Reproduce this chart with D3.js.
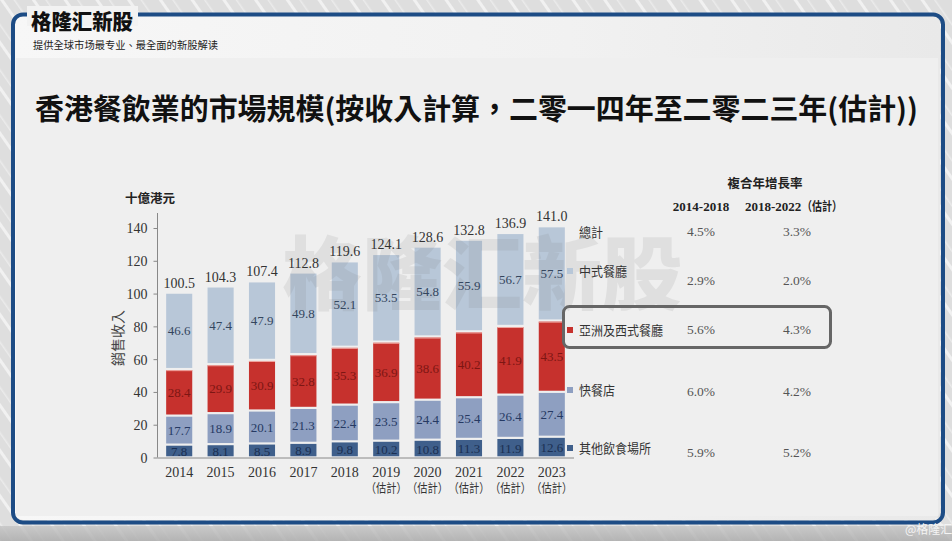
<!DOCTYPE html>
<html><head><meta charset="utf-8">
<script src="https://cdn.jsdelivr.net/npm/d3@7"></script>
<style>html,body{margin:0;padding:0;background:#e4e4e4;}svg{display:block;}</style>
</head><body>
<svg id="c" width="952" height="541"></svg>
<script>
const years = ["2014","2015","2016","2017","2018","2019","2020","2021","2022","2023"];
const estimated = [false,false,false,false,false,true,true,true,true,true];
const other = [7.8,8.1,8.5,8.9,9.8,10.2,10.8,11.3,11.9,12.6];
const fastFood = [17.7,18.9,20.1,21.3,22.4,23.5,24.4,25.4,26.4,27.4];
const asianWestern = [28.4,29.9,30.9,32.8,35.3,36.9,38.6,40.2,41.9,43.5];
const chinese = [46.6,47.4,47.9,49.8,52.1,53.5,54.8,55.9,56.7,57.5];
const totals = [100.5,104.3,107.4,112.8,119.6,124.1,128.6,132.8,136.9,141.0];
const yTicks = [0,20,40,60,80,100,120,140];
const seriesNames = ["其他飲食場所","快餐店","亞洲及西式餐廳","中式餐廳"];
const legendRows = ["總計","中式餐廳","亞洲及西式餐廳","快餐店","其他飲食場所"];
const cagr1418 = ["4.5%","2.9%","5.6%","6.0%","5.9%"];
const cagr1822 = ["3.3%","2.0%","4.3%","4.2%","5.2%"];

const svg = d3.select("#c");
const serif = "'Liberation Serif','DejaVu Serif',serif";
const cjk = "'Noto Sans CJK TC','Noto Sans CJK SC',sans-serif";

// background
const defs = svg.append("defs");
const pat = defs.append("pattern").attr("id","stripes").attr("width",26).attr("height",26)
  .attr("patternUnits","userSpaceOnUse").attr("patternTransform","rotate(-35)");
pat.append("rect").attr("width",26).attr("height",26).attr("fill","#dedede");
pat.append("rect").attr("width",3).attr("height",26).attr("fill","#f1f1f1");
pat.append("rect").attr("x",11).attr("width",1.5).attr("height",26).attr("fill","#ebebeb");
svg.append("rect").attr("width",952).attr("height",541).attr("fill","url(#stripes)");
const bot = defs.append("linearGradient").attr("id","botg").attr("x1",0).attr("x2",0).attr("y1",0).attr("y2",1);
bot.append("stop").attr("offset",0).attr("stop-color","#c4c4c4");
bot.append("stop").attr("offset",1).attr("stop-color","#a9a9a9");
svg.append("rect").attr("x",0).attr("y",526).attr("width",952).attr("height",15).attr("fill","url(#botg)").attr("opacity",0.8);

// inner panel
const hg = defs.append("linearGradient").attr("id","hg").attr("x1",0).attr("x2",1).attr("y1",0).attr("y2",0);
hg.append("stop").attr("offset",0).attr("stop-color","#f7f7f7");
hg.append("stop").attr("offset",0.6).attr("stop-color","#f1f1f1");
hg.append("stop").attr("offset",1).attr("stop-color","#e9e9e9");
svg.append("rect").attr("x",14).attr("y",16).attr("width",926).attr("height",504).attr("rx",9).attr("fill","url(#hg)");
svg.append("rect").attr("x",16).attr("y",58).attr("width",922).attr("height",458).attr("fill","#efefef");

// frame
svg.append("rect").attr("x",13).attr("y",14.5).attr("width",930).attr("height",508).attr("rx",10)
  .attr("fill","none").attr("stroke","#1d4c85").attr("stroke-width",4);
// mask behind header title
svg.append("rect").attr("x",27).attr("y",6).attr("width",111).attr("height",20).attr("fill","#f2f2f2");
svg.append("text").attr("x",31).attr("y",29).attr("font-family",cjk).attr("font-weight",900)
  .attr("font-size",21).attr("fill","#111").attr("textLength",102).attr("lengthAdjust","spacingAndGlyphs").text("格隆汇新股");
svg.append("text").attr("x",33).attr("y",49).attr("font-family",cjk).attr("font-size",10.5)
  .attr("fill","#222").attr("textLength",185).attr("lengthAdjust","spacingAndGlyphs").text("提供全球市场最专业、最全面的新股解读");
svg.append("text").attr("x",905).attr("y",534).attr("font-family",cjk).attr("font-size",12)
  .attr("fill","#f4f4f4").text("@格隆汇");

// main title
svg.append("text").attr("x",35).attr("y",120).attr("font-family",cjk).attr("font-weight",700)
  .attr("font-size",29).attr("fill","#111").attr("textLength",883).attr("lengthAdjust","spacingAndGlyphs")
  .text("香港餐飲業的市場規模(按收入計算，二零一四年至二零二三年(估計))");

// scales
const y = d3.scaleLinear().domain([0,140]).range([457.5,228]);
const x = d3.scaleBand().domain(years).range([158.5,572.5]).paddingInner(0.37).paddingOuter(0.185);

// big watermark (behind labels)
const wm = svg.append("g");

// y axis
const yAxis = svg.append("g").attr("transform","translate(157.5,0)")
  .call(d3.axisLeft(y).tickValues(yTicks).tickSize(4).tickSizeOuter(0));
yAxis.select(".domain").remove();
yAxis.selectAll(".tick line").attr("stroke","#888");
yAxis.selectAll(".tick text").attr("font-family",serif).attr("font-size",14).attr("fill","#333").attr("x",-10).attr("dy","0.35em");
svg.append("line").attr("x1",157.5).attr("x2",157.5).attr("y1",213).attr("y2",y(0)).attr("stroke","#888").attr("stroke-width",1);
svg.append("line").attr("x1",157.5).attr("x2",574).attr("y1",y(0)+0.5).attr("y2",y(0)+0.5).attr("stroke","#888").attr("stroke-width",1);
svg.append("text").attr("x",125).attr("y",203).attr("font-family",cjk).attr("font-weight",700)
  .attr("font-size",12.5).attr("fill","#222").text("十億港元");
svg.append("text").attr("transform","translate(123,338) rotate(-90)").attr("text-anchor","middle")
  .attr("font-family",cjk).attr("font-size",14).attr("fill","#444").text("銷售收入");

// x axis labels
const xl = svg.append("g");
years.forEach((yr,i)=>{
  const cx = x(yr)+x.bandwidth()/2;
  xl.append("text").attr("x",cx).attr("y",477).attr("text-anchor","middle").attr("font-family",serif)
    .attr("font-size",14).attr("fill","#333").text(yr);
  if (estimated[i]) xl.append("text").attr("x",cx).attr("y",493).attr("text-anchor","middle").attr("font-family",cjk)
    .attr("font-size",12.5).attr("fill","#333").attr("textLength",41).attr("lengthAdjust","spacingAndGlyphs").text("（估計）");
});

// stacked bars
const series = [other, fastFood, asianWestern, chinese];
const colors = ["#3f5f8b","#8e9fc1","#c6312d","#b8c7d8"];
const txtColors = ["#1b2f52","#263a63","#7d1613","#34465e"];
const stack = years.map((yr,i)=>{ let base=0; return series.map((s,k)=>{ const r={k, yr, v:s[i], y0:base, y1:base+s[i]}; base+=s[i]; return r; }); }).flat();
const bars = svg.append("g");
bars.selectAll("rect").data(stack).join("rect")
  .attr("x",d=>x(d.yr)).attr("width",x.bandwidth())
  .attr("y",d=>y(d.y1)+1).attr("height",d=>Math.max(0,y(d.y0)-y(d.y1)-2.2))
  .attr("fill",d=>colors[d.k]);
bars.selectAll("line.tp").data(stack.filter(d=>d.k===2)).join("line").attr("class","tp")
  .attr("x1",d=>x(d.yr)).attr("x2",d=>x(d.yr)+x.bandwidth()).attr("y1",d=>y(d.y1)+1.5).attr("y2",d=>y(d.y1)+1.5)
  .attr("stroke","#f0a8a2").attr("stroke-width",1);

// watermark sits over the bars, under the value labels
svg.append("text").attr("x",282).attr("y",303).attr("font-family",cjk).attr("font-weight",900)
  .attr("font-size",80).attr("fill","#7a7a7a").attr("opacity",0.13).attr("textLength",400)
  .attr("lengthAdjust","spacingAndGlyphs").text("格隆汇新股");

const labels = svg.append("g");
labels.selectAll("text.v").data(stack).join("text").attr("class","v")
  .attr("x",d=>x(d.yr)+x.bandwidth()/2).attr("y",d=>(y(d.y0)+y(d.y1))/2 + (d.k===0?5:4.5))
  .attr("text-anchor","middle").attr("font-family",serif).attr("font-size",13)
  .attr("fill",d=>txtColors[d.k]).text(d=>d.v.toFixed(1));
labels.selectAll("text.t").data(years).join("text").attr("class","t")
  .attr("x",d=>x(d)+x.bandwidth()/2).attr("y",(d,i)=>y(totals[i])-5)
  .attr("text-anchor","middle").attr("font-family",serif).attr("font-size",14).attr("fill","#333")
  .text((d,i)=>totals[i].toFixed(1));

// legend + CAGR table
const rowY = [237,276,335,395,453];
const valY = [236,285,334,396,457];
const legendColors = [null,"#b8c7d8","#c6312d","#8e9fc1","#3f5f8b"];
const lg = svg.append("g");
legendRows.forEach((name,i)=>{
  if (legendColors[i]) lg.append("rect").attr("x",567).attr("y",rowY[i]-8).attr("width",6).attr("height",6).attr("fill",legendColors[i]);
  lg.append("text").attr("x",579).attr("y",rowY[i]).attr("font-family",cjk).attr("font-size",13)
    .attr("fill","#333").attr("textLength",name.length*12).attr("lengthAdjust","spacingAndGlyphs").text(name);
  lg.append("text").attr("x",701).attr("y",valY[i]).attr("text-anchor","middle").attr("font-family",serif)
    .attr("font-size",13.5).attr("fill","#555").text(cagr1418[i]);
  lg.append("text").attr("x",797).attr("y",valY[i]).attr("text-anchor","middle").attr("font-family",serif)
    .attr("font-size",13.5).attr("fill","#555").text(cagr1822[i]);
});
svg.append("text").attr("x",765).attr("y",188).attr("text-anchor","middle").attr("font-family",cjk).attr("font-weight",700)
  .attr("font-size",12.5).attr("fill","#222").text("複合年增長率");
svg.append("text").attr("x",701).attr("y",211).attr("text-anchor","middle").attr("font-family",serif).attr("font-weight",700)
  .attr("font-size",13).attr("fill","#222").text("2014-2018");
svg.append("text").attr("x",745).attr("y",211).attr("font-family",serif).attr("font-weight",700)
  .attr("font-size",13).attr("fill","#222").text("2018-2022");
svg.append("text").attr("x",802).attr("y",211).attr("font-family",cjk).attr("font-weight",700)
  .attr("font-size",12.5).attr("fill","#222").attr("textLength",40).attr("lengthAdjust","spacingAndGlyphs").text("（估計）");

// highlight box
svg.append("rect").attr("x",563.5).attr("y",306.5).attr("width",267).attr("height",41).attr("rx",6)
  .attr("fill","none").attr("stroke","#666").attr("stroke-width",3);
</script>
</body></html>
